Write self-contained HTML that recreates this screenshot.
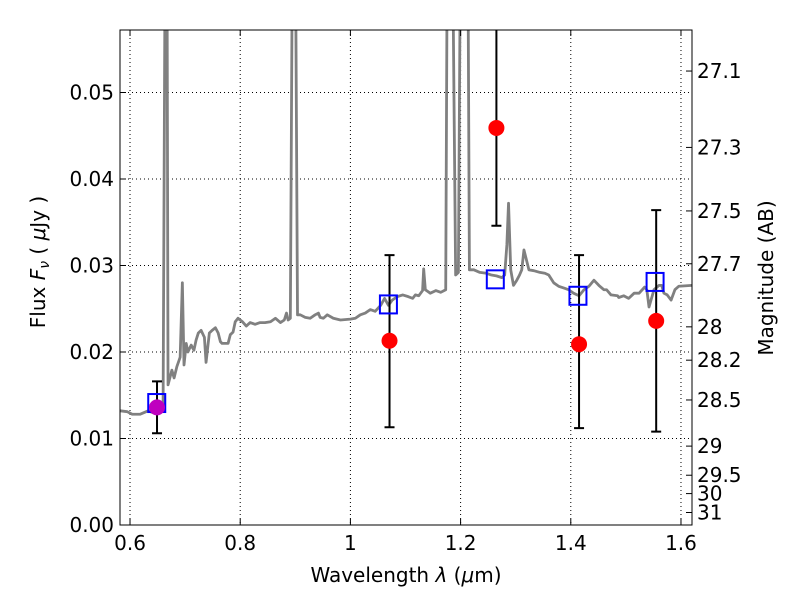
<!DOCTYPE html>
<html><head><meta charset="utf-8"><style>
body{margin:0;background:#fff;}
svg text{font-family:"DejaVu Sans","Liberation Sans",sans-serif;fill:#000;}
</style></head><body>
<svg id="chart" width="800" height="600" xmlns="http://www.w3.org/2000/svg">
<defs><clipPath id="clip"><rect x="120" y="30" width="572" height="495"/></clipPath></defs>
<rect x="120" y="30" width="572" height="495" fill="#fff"/>
<g id="grid"></g>
<g id="spec" clip-path="url(#clip)"></g>
<g id="marks" clip-path="url(#clip)"></g>
<rect x="120" y="30" width="572" height="495" fill="none" stroke="#000" stroke-width="1"/>
<g id="axes"></g>
<text x="406" y="582" font-size="20" text-anchor="middle">Wavelength  <tspan font-style="italic">λ</tspan> (<tspan font-style="italic">μ</tspan>m)</text>
<text transform="translate(45,262) rotate(-90)" font-size="20" text-anchor="middle">Flux  <tspan font-style="italic">F</tspan><tspan font-style="italic" font-size="14" dy="4">ν</tspan><tspan dy="-4">  (  </tspan><tspan font-style="italic">μ</tspan>Jy )</text>
<text transform="translate(773,278) rotate(-90)" font-size="20" text-anchor="middle">Magnitude (AB)</text>
</svg>
<script>
const xTicks=[0.6,0.8,1,1.2,1.4,1.6];
const xTickLabels=["0.6","0.8","1","1.2","1.4","1.6"];
const yTicks=[0,0.01,0.02,0.03,0.04,0.05];
const yTickLabels=["0.00","0.01","0.02","0.03","0.04","0.05"];
const magTicks=[27.1,27.3,27.5,27.7,28,28.2,28.5,29,29.5,30,31];
const magTickLabels=["27.1","27.3","27.5","27.7","28","28.2","28.5","29","29.5","30","31"];
const specWave=[0.582,0.595,0.604,0.618,0.633,0.645,0.655,0.660,0.664,0.667,0.669,0.676,0.680,0.685,0.691,0.695,0.698,0.702,0.705,0.711,0.716,0.720,0.724,0.729,0.735,0.738,0.744,0.749,0.755,0.760,0.764,0.767,0.778,0.782,0.787,0.791,0.796,0.800,0.804,0.811,0.818,0.827,0.836,0.845,0.855,0.864,0.873,0.880,0.884,0.887,0.891,0.895,0.900,0.904,0.909,0.918,0.927,0.936,0.942,0.945,0.951,0.958,0.969,0.982,1.000,1.009,1.018,1.027,1.036,1.045,1.055,1.062,1.069,1.076,1.085,1.095,1.105,1.113,1.118,1.124,1.131,1.133,1.136,1.145,1.155,1.164,1.173,1.176,1.185,1.191,1.196,1.200,1.213,1.216,1.224,1.235,1.247,1.256,1.265,1.275,1.280,1.284,1.287,1.291,1.296,1.302,1.307,1.311,1.315,1.324,1.333,1.344,1.353,1.360,1.369,1.378,1.387,1.396,1.405,1.415,1.424,1.433,1.442,1.451,1.460,1.465,1.473,1.485,1.487,1.496,1.505,1.515,1.524,1.534,1.538,1.542,1.551,1.560,1.565,1.569,1.575,1.582,1.589,1.596,1.620];
const specFlux=[0.0132,0.0131,0.0128,0.0128,0.0132,0.0129,0.0131,0.0133,0.07,0.07,0.0162,0.0179,0.0170,0.0183,0.0194,0.0280,0.0185,0.0210,0.0200,0.0208,0.0202,0.0214,0.0222,0.0225,0.0217,0.0188,0.0222,0.0225,0.0228,0.0222,0.0212,0.0210,0.0210,0.0220,0.0223,0.0235,0.0239,0.0237,0.0235,0.0230,0.0234,0.0232,0.0234,0.0234,0.0235,0.0239,0.0234,0.0237,0.0245,0.0237,0.0239,0.07,0.07,0.0243,0.0243,0.0240,0.0239,0.0243,0.0245,0.0240,0.0239,0.0243,0.0239,0.0237,0.0238,0.0239,0.0243,0.0245,0.0249,0.0247,0.0254,0.0262,0.0254,0.0260,0.0264,0.0266,0.0264,0.0262,0.0266,0.0265,0.0271,0.0296,0.0272,0.0268,0.0271,0.0269,0.0272,0.07,0.07,0.0289,0.0292,0.07,0.07,0.0295,0.0295,0.0292,0.0291,0.0289,0.0288,0.0286,0.0289,0.0324,0.0372,0.0295,0.0277,0.0283,0.0289,0.0295,0.0318,0.0295,0.0294,0.0292,0.0291,0.0289,0.0280,0.0276,0.0274,0.0272,0.0268,0.0265,0.0272,0.0276,0.0283,0.0277,0.0272,0.0272,0.0266,0.0265,0.0263,0.0265,0.0262,0.0268,0.0268,0.0275,0.0272,0.0252,0.0272,0.0277,0.0277,0.0268,0.0266,0.0260,0.0272,0.0276,0.0277];
const photWave=[0.649,1.071,1.265,1.415,1.555];
const photFlux=[0.0136,0.0213,0.0459,0.0209,0.0236];
const errLow=[0.0106,0.0113,0.0346,0.0112,0.0108];
const errHigh=[0.0166,0.0312,0.0700,0.0312,0.0364];
const modelWave=[0.6485,1.069,1.263,1.413,1.553];
const modelFlux=[0.0141,0.0255,0.0284,0.0265,0.0281];
const pointColors=["#bf00bf","#ff0000","#ff0000","#ff0000","#ff0000"];

const X0=120,X1=692,Y0=525,Y1=30;
const xMin=0.6-10/550,xMax=1.6+11/550,yMin=0,yMax=495/8650;
const sx=v=>X0+(v-xMin)/(xMax-xMin)*(X1-X0);
const sy=v=>Y0-(v-yMin)/(yMax-yMin)*(Y0-Y1);
const magToFlux=m=>Math.pow(10,(23.9-m)/2.5);
const NS="http://www.w3.org/2000/svg";
function mk(tag,attrs,parent){const e=document.createElementNS(NS,tag);for(const k in attrs)e.setAttribute(k,attrs[k]);parent.appendChild(e);return e;}
const grid=document.getElementById('grid'),axes=document.getElementById('axes');
xTicks.forEach((t,i)=>{
  const x=sx(t);
  const g=mk('line',{x1:x,x2:x,y1:Y1,y2:Y0,stroke:'#000','stroke-dasharray':'1,3','stroke-width':1},grid);
  
  
  mk('line',{x1:x,x2:x,y1:Y0,y2:Y0-6,stroke:'#000'},axes);
  mk('line',{x1:x,x2:x,y1:Y1,y2:Y1+6,stroke:'#000'},axes);
  const tx=mk('text',{x:x,y:Y0+25,'font-size':20,'text-anchor':'middle'},axes);
  tx.textContent=xTickLabels[i];
  
  
});
yTicks.forEach((t,i)=>{
  const y=sy(t);
  const g=mk('line',{x1:X0,x2:X1,y1:y,y2:y,stroke:'#000','stroke-dasharray':'1,3','stroke-width':1},grid);
  
  
  mk('line',{x1:X0,x2:X0+6,y1:y,y2:y,stroke:'#000'},axes);
  const tx=mk('text',{x:X0-6,y:y+7,'font-size':20,'text-anchor':'end'},axes);
  tx.textContent=yTickLabels[i];
  
  
});
magTicks.forEach((m,i)=>{
  const y=sy(magToFlux(m));
  mk('line',{x1:X1,x2:X1-6,y1:y,y2:y,stroke:'#000'},axes);
  const tx=mk('text',{x:X1+5,y:y+7,'font-size':20},axes);
  tx.textContent=magTickLabels[i];
  
  
});
const spec=document.getElementById('spec');
const sp=mk('polyline',{points:specWave.map((w,i)=>sx(w)+','+sy(specFlux[i])).join(' '),fill:'none',stroke:'#808080','stroke-width':2.8,'stroke-linejoin':'round'},spec);


const marks=document.getElementById('marks');
photWave.forEach((w,i)=>{
  const x=sx(w),yl=sy(errLow[i]),yh=sy(errHigh[i]);
  const e=mk('path',{d:`M${x},${yl}V${yh}M${x-5},${yl}H${x+5}M${x-5},${yh}H${x+5}`,stroke:'#000','stroke-width':2,fill:'none'},marks);
  
  
});
modelWave.forEach((w,i)=>{
  const r=mk('rect',{x:sx(w)-8.5,y:sy(modelFlux[i])-9,width:17,height:18,fill:'none',stroke:'#0000ff','stroke-width':2},marks);
  
  
});
photWave.forEach((w,i)=>{
  const c=mk('circle',{cx:sx(w),cy:sy(photFlux[i]),r:8,fill:pointColors[i]},marks);
  
  
});
</script>
</body></html>
